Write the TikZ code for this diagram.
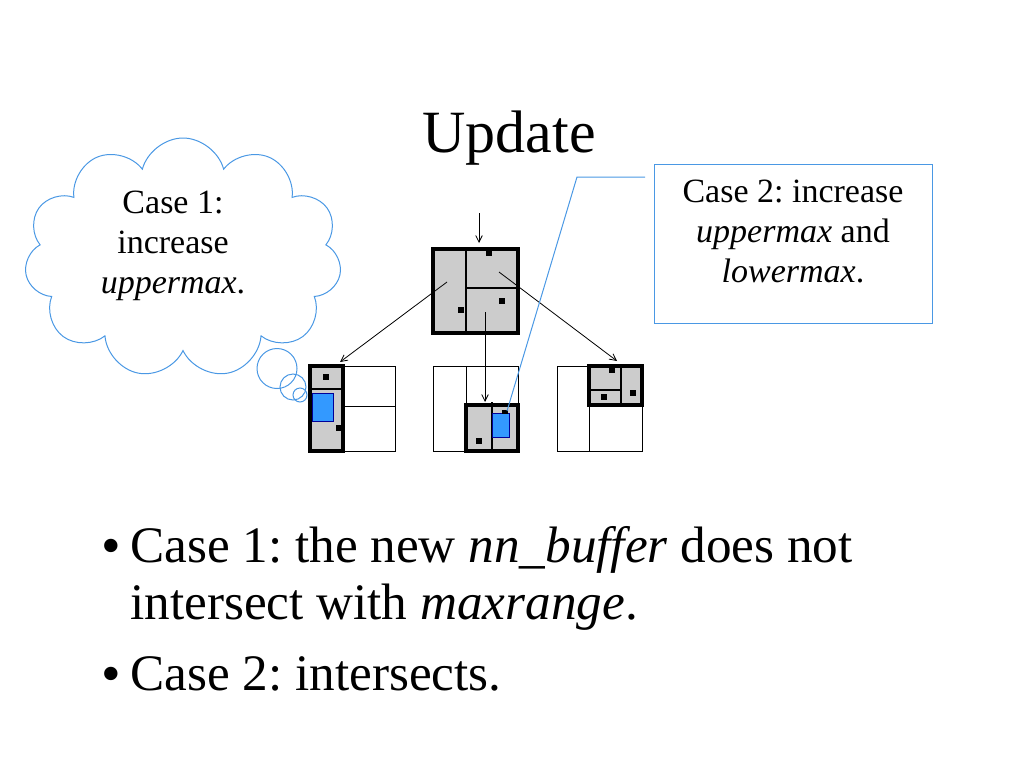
\documentclass[tikz,border=0pt]{standalone}
\usepackage{fontspec}
\setmainfont{Liberation Serif}
\usetikzlibrary{arrows.meta,shapes.symbols}
\definecolor{callblue}{RGB}{74,152,228}
\definecolor{fillblue}{RGB}{51,153,255}
\definecolor{cellgray}{RGB}{204,204,204}
\frenchspacing

\begin{document}
\begin{tikzpicture}
      [x = 0.75pt, y = -0.75pt,
      link/.style={-{Straight Barb[length=5pt,width=5pt]}, line width=0.6pt},
      cell/.style={draw, line width=0.75pt},
      split/.style={line width=0.9pt},
      region/.style={draw, line width=2.3pt},
      dot/.style= {
         fill = black,
         rectangle,
         inner sep = 0pt,
         minimum size = 5.2pt
      },
      blob/.style={draw=blue!60!black, fill=fillblue, line width=0.75pt},
      balloon/.style={draw=callblue, line width=0.75pt},
      small/.style={font=\fontsize{25.5}{30}\selectfont, inner sep=0pt, align=center},
      big/.style={font=\fontsize{38.4}{42.75}\selectfont, inner sep=0pt, align=left},
      bulletmark/.style={font=\fontsize{42}{44}\selectfont, inner sep=0pt}]

      \useasboundingbox (0,0) rectangle (1024,768);

      \node[anchor=base, inner sep=0pt, font=\fontsize{45}{54}\selectfont] (title) at (509,152) {Update};

      % root
      \fill[cellgray] (433,249) rectangle (518,333);
      \draw[split] (466,249) -- (466,333);
      \draw[split] (466,288) -- (518,288);
      \draw[region] (433,249) rectangle (518,333);
      \node[dot] (r1) at (489,252.5) {};
      \node[dot] (r2) at (461,310) {};
      \node[dot] (r3) at (502,301) {};

      % left child
      \draw[cell] (310,366) rectangle (395,451);
      \draw[cell] (343,406) -- (395,406);
      \fill[cellgray] (310,366) rectangle (343,451);
      \draw[split] (308,389) -- (343,389);
      \draw[blob] (312,393) rectangle (333,421);
      \node[dot] (a1) at (326,377) {};
      \node[dot] (a2) at (339.5,428) {};
      \draw[region] (310,366) rectangle (343,451);

      % middle child
      \draw[cell] (433,366) rectangle (518,451);
      \draw[cell] (466,366) -- (466,405);
      \fill[cellgray] (466,405) rectangle (518,451);
      \draw[split] (492,402) -- (492,451);
      \draw[blob] (492,413) rectangle (509,437);
      \node[dot] (b1) at (479,441) {};
      \node[dot, minimum height=2.5pt] (b2) at (505,412) {};
      \draw[region] (466,405) rectangle (518,451);

      % right child
      \draw[cell] (557,366) rectangle (642,451);
      \draw[cell] (589,366) -- (589,451);
      \draw[cell] (589,406) -- (642,406);
      \fill[cellgray] (589,366) rectangle (642,405);
      \draw[split] (621,366) -- (621,405);
      \draw[split] (588,390) -- (621,390);
      \node[dot] (c1) at (612,369.5) {};
      \node[dot] (c2) at (604,397) {};
      \node[dot] (c3) at (633,393) {};
      \draw[region] (589,366) rectangle (642,405);

      % arrows
      \coordinate (inroot) at (479,213);
      \coordinate (roottop) at (479,243);
      \coordinate (fromleft) at (447,282);
      \coordinate (toleft) at (340,362);
      \coordinate (frommid) at (485,312);
      \coordinate (tomid) at (485,402);
      \coordinate (fromright) at (499,272);
      \coordinate (toright) at (617,361);
      \draw[link] (inroot) -- (roottop);
      \draw[link] (fromleft) -- (toleft);
      \draw[link] (frommid) -- (tomid);
      \draw[link] (fromright) -- (toright);

      % thought cloud
      \node[cloud, cloud puffs=11, cloud ignores aspect, balloon,
            minimum width=237.75pt, minimum height=180pt, inner sep=0pt] (thought) at (183,258) {};
      \draw[balloon] (277,368.5) circle (15pt);
      \draw[balloon] (293,387) circle (9.75pt);
      \draw[balloon] (300,395) circle (5.25pt);
      \node[small, anchor=base] (thoughttext) at (173,293) {Case 1:\\increase\\\textit{uppermax}.};

      % callout box
      \node[draw=callblue, line width=0.75pt, minimum width=208.5pt, minimum height=119.25pt] (note) at (793,243.5) {};
      \node[small, anchor=base] (notetext) at (793,282) {Case 2: increase\\\textit{uppermax} and\\\textit{lowermax}.};
      \coordinate (noteleg) at (645,177);
      \coordinate (notebend) at (577,177);
      \coordinate (notetip) at (507,411);
      \draw[balloon] (noteleg) -- (notebend) -- (notetip);

      % bullets
      \node[bulletmark, anchor=base west] (mark1) at (101,564) {\textbullet};
      \node[big, anchor=base west] (item1) at (130,619) {Case 1: the new \textit{nn\_buffer} does not\\intersect with \textit{maxrange}.};
      \node[bulletmark, anchor=base west] (mark2) at (101,692) {\textbullet};
      \node[big, anchor=base west] (item2) at (130,690) {Case 2: intersects.};

   \end{tikzpicture}
\end{document}
